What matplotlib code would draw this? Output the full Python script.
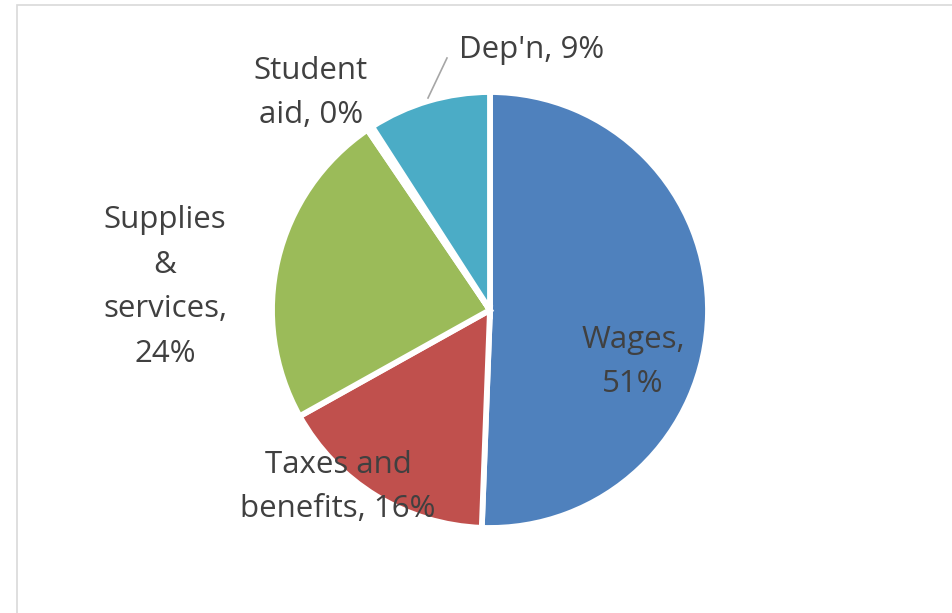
import matplotlib.pyplot as plt
from matplotlib.patches import Rectangle

# cost breakdown, percent
categories = ['Wages', 'Taxes and benefits', 'Supplies & services', 'Student aid', "Dep'n"]
shares = [50.6, 16.3, 23.6, 0.4, 9.1]
labels = ['Wages,\n51%', 'Taxes and\nbenefits, 16%', 'Supplies\n&\nservices,\n24%',
          'Student\naid, 0%', "Dep'n, 9%"]
colors = ['#4f81bd', '#c0504d', '#9bbb59', '#8064a2', '#4bacc6']

W, H = 953, 613
fig = plt.figure(figsize=(W / 100, H / 100), dpi=100)
ax = fig.add_axes([0, 0, 1, 1])
ax.set_xlim(0, W)
ax.set_ylim(0, H)
ax.set_aspect('equal')
ax.axis('off')

# chart area frame (only top and left edge are visible in the crop)
ax.add_patch(Rectangle((17, -20), 1000, H - 5 + 20, fill=False,
                       edgecolor='#d9d9d9', linewidth=1.2))

ax.pie(shares, colors=colors, startangle=90, counterclock=False,
       center=(490, H - 310), radius=218,
       wedgeprops=dict(edgecolor='white', linewidth=4.2))
ax.set_xlim(0, W)
ax.set_ylim(0, H)

# label positions in pixels (x, y from top)
label_pos = [(633, 362), (338, 487), (165, 287), (311, 93), (532, 50)]
for txt, (x, y) in zip(labels, label_pos):
    ax.text(x, H - y, txt, ha='center', va='center', multialignment='center',
            fontsize=22.5, color='#404040', family='Open Sans', linespacing=1.65)

# leader line for Dep'n
ax.plot([447, 428], [H - 58, H - 98], color='#a6a6a6', linewidth=1.2)

fig.savefig('out.png', dpi=100)
